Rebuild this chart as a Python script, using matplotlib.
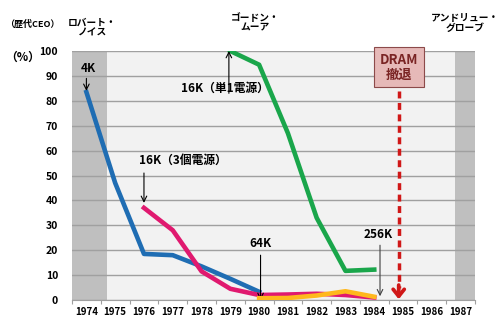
import matplotlib.pyplot as plt

plt.rcParams['font.family'] = ['Noto Sans CJK JP', 'DejaVu Sans']

# データ
years = [str(y) for y in range(1974, 1988)]
yticks = list(range(0, 101, 10))

dram_4k = [83.5, 47, 18.5, 18, 13.5, 8.5, 3.3]          # 1974-1980
dram_16k_3 = [37, 28, 11.5, 4.5, 2, 2.2, 2.5, 2, 1]     # 1976-1984
dram_16k_1 = [100, 94.5, 67, 33, 11.7, 12.2]            # 1979-1984
dram_64k = [0.7, 0.8, 1.8, 3.5, 1.3]                    # 1980-1984

start_4k, start_16k_3, start_16k_1, start_64k = 0, 2, 5, 6
exit_year = 11  # 1985

fig = plt.figure(figsize=(5, 3.27), dpi=100)
ax = fig.add_axes([0.144, 0.0826, 0.806, 0.7614])
ax.set_facecolor('#f2f2f2')
ax.set_xlim(0, len(years))
ax.set_ylim(0, 100)

# CEO在任期間の灰色帯
ax.axvspan(0, 1.2, color='#bfbfbf', zorder=0.5, lw=0)
ax.axvspan(13.3, 14, color='#bfbfbf', zorder=0.5, lw=0)

ax.set_yticks(yticks)
ax.yaxis.grid(True, color='#a0a0a0', lw=1)
ax.set_axisbelow(True)
ax.set_xticks(range(len(years) + 1))
ax.set_xticklabels([])
ax.set_xticks([i + 0.5 for i in range(len(years))], minor=True)
ax.set_xticklabels(years, minor=True, fontsize=7, fontweight='bold')
ax.tick_params(axis='x', which='minor', length=0, pad=5)
ax.tick_params(axis='x', which='major', length=3, color='#a0a0a0')
ax.tick_params(axis='y', length=0, pad=10, labelsize=7.5)
for t in ax.get_yticklabels():
    t.set_fontweight('bold')
for s in ['top', 'right', 'left']:
    ax.spines[s].set_visible(False)
ax.spines['bottom'].set_color('#a0a0a0')


def xs(start, vals):
    return [start + i + 0.5 for i in range(len(vals))]


lw = 3.3
ax.plot(xs(start_4k, dram_4k), dram_4k, color='#1f6db3', lw=lw, zorder=3)
ax.plot(xs(start_16k_3, dram_16k_3), dram_16k_3, color='#e0196f', lw=lw, zorder=3)
ax.plot(xs(start_16k_1, dram_16k_1), dram_16k_1, color='#1aa64b', lw=lw, zorder=3)
ax.plot(xs(start_64k, dram_64k), dram_64k, color='#ffb81c', lw=lw, zorder=4)

# 注記
fs = 8.5
arr = dict(arrowstyle='->', color='black', lw=0.8, shrinkA=0, shrinkB=0)
ax.text(0.55, 93, '4K', ha='center', va='center', fontsize=fs, fontweight='bold')
ax.annotate('', xy=(0.5, 84), xytext=(0.5, 89), arrowprops=arr)

ax.text(5.3, 85, '16K（単1電源）', ha='center', va='center', fontsize=fs, fontweight='bold')
ax.annotate('', xy=(5.45, 100), xytext=(5.45, 83), arrowprops=arr)

ax.text(3.85, 56, '16K（3個電源）', ha='center', va='center', fontsize=fs, fontweight='bold')
ax.annotate('', xy=(2.5, 39), xytext=(2.5, 51), arrowprops=arr)

ax.text(6.55, 22.5, '64K', ha='center', va='center', fontsize=fs, fontweight='bold')
ax.annotate('', xy=(6.55, 0), xytext=(6.55, 18), arrowprops=arr)

ax.text(10.65, 26.5, '256K', ha='center', va='center', fontsize=fs, fontweight='bold')
ax.annotate('', xy=(10.7, 1.5), xytext=(10.7, 22),
            arrowprops=dict(arrowstyle='->', color='#404040', lw=0.8, shrinkA=0, shrinkB=0))

# DRAM撤退
xe = exit_year + 0.35
ax.plot([xe, xe], [84, 5], color='#d01818', lw=2.5, ls=(0, (2, 1.3)), zorder=5)
ax.annotate('', xy=(xe, 0.3), xytext=(xe, 6),
            arrowprops=dict(arrowstyle='->,head_length=0.5,head_width=0.4',
                            color='#d01818', lw=2.7, shrinkA=0, shrinkB=0), zorder=5)
ax.text(xe, 93.5, 'DRAM\n撤退', ha='center', va='center', fontsize=9.5,
        fontweight='bold', color='#7a2424', linespacing=1.05, zorder=6,
        bbox=dict(boxstyle='square,pad=0.45', fc='#e6b9b8', ec='#8c4a4a', lw=0.8))

# 歴代CEO
fig.text(0.065, 0.925, '（歴代CEO）', ha='center', va='center', fontsize=6.5, fontweight='bold')
fig.text(0.185, 0.915, 'ロバート・\nノイス', ha='center', va='center', fontsize=7,
         fontweight='bold', linespacing=1.0)
fig.text(0.51, 0.93, 'ゴードン・\nムーア', ha='center', va='center', fontsize=7,
         fontweight='bold', linespacing=1.0)
fig.text(0.93, 0.93, 'アンドリュー・\nグローブ', ha='center', va='center', fontsize=7,
         fontweight='bold', linespacing=1.0)
fig.text(0.045, 0.825, '（%）', ha='center', va='center', fontsize=8.5, fontweight='bold')

fig.savefig('out.png', dpi=100)
